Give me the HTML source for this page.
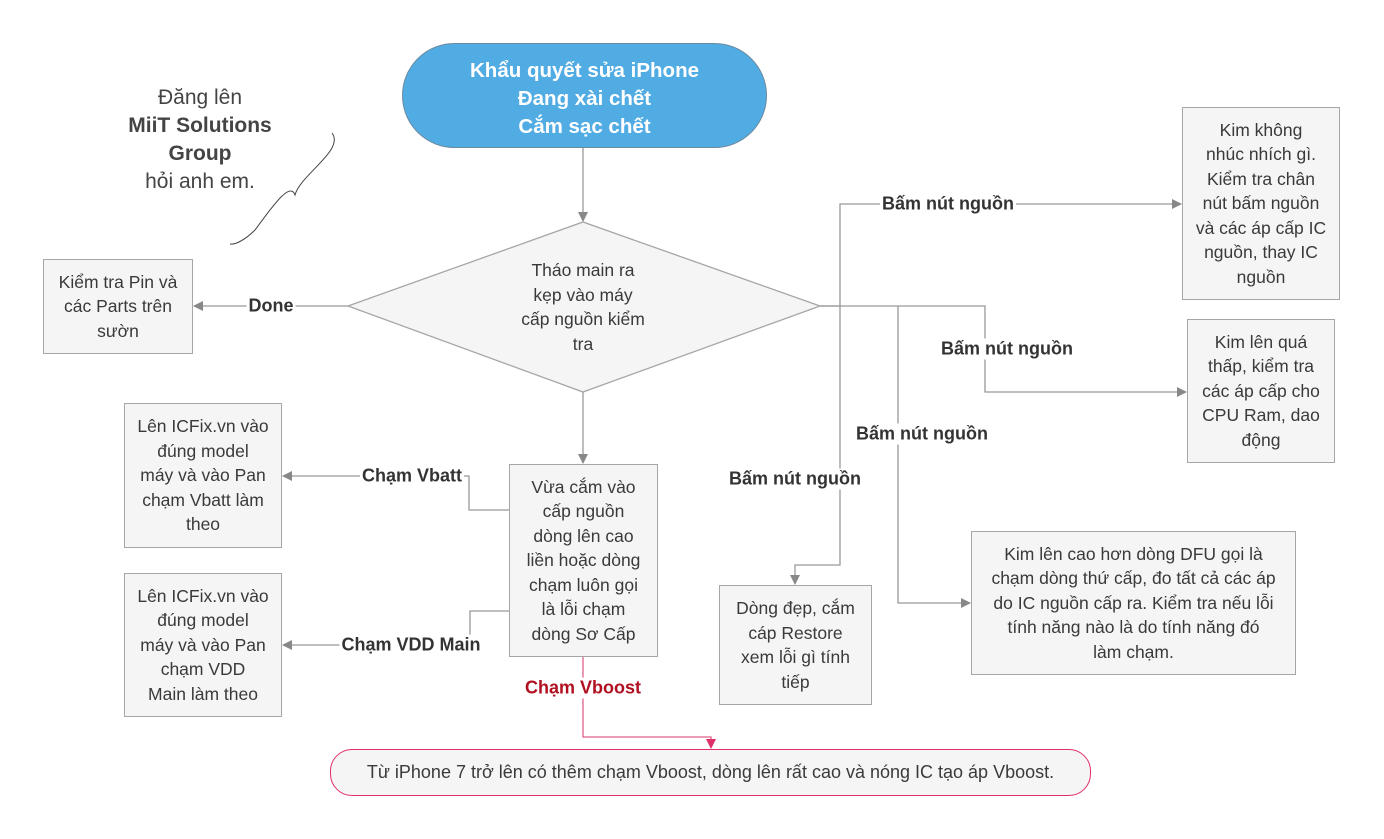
<!DOCTYPE html>
<html><head><meta charset="utf-8"><style>
body{margin:0;background:#fff;width:1384px;height:839px;position:relative;overflow:hidden;font-family:"Liberation Sans","DejaVu Sans",sans-serif;color:#333}
.b{position:absolute;background:#f5f5f5;border:1px solid #a6a6a6;box-sizing:border-box;display:flex;align-items:center;justify-content:center;text-align:center;font-size:17.5px;line-height:24.5px;color:#3a3a3a;white-space:nowrap}
.l{position:absolute;font-weight:bold;font-size:18px;color:#333;background:#fff;white-space:nowrap;transform:translate(-50%,-50%);padding:0 2px}
</style></head><body>
<svg width="1384" height="839" style="position:absolute;left:0;top:0">
<defs>
<marker id="a" markerWidth="10" markerHeight="10" refX="9" refY="5" orient="auto" markerUnits="userSpaceOnUse"><path d="M0,0 L10,5 L0,10z" fill="#888"/></marker>
<marker id="p" markerWidth="10" markerHeight="10" refX="9" refY="5" orient="auto" markerUnits="userSpaceOnUse"><path d="M0,0 L10,5 L0,10z" fill="#e0306a"/></marker>
</defs>
<g fill="none" stroke="#999" stroke-width="1.3">
<path d="M583,148 V221" marker-end="url(#a)"/>
<polygon points="348,306 583,222 820,306 583,392" fill="#f5f5f5" stroke="#a6a6a6"/>
<path d="M348,306 H194" marker-end="url(#a)"/>
<path d="M583,392 V463" marker-end="url(#a)"/>
<path d="M509,510 H469 V476 H283" marker-end="url(#a)"/>
<path d="M509,611 H470 V645 H283" marker-end="url(#a)"/>
<path d="M820,306 H840 V204 H1181" marker-end="url(#a)"/>
<path d="M820,306 H985 V392 H1186" marker-end="url(#a)"/>
<path d="M898,306 V603 H970" marker-end="url(#a)"/>
<path d="M840,306 V565 H795 V584" marker-end="url(#a)"/>
<path d="M583,657 V737 H711 V748" stroke="#e06088" marker-end="url(#p)"/>
<path d="M332,133 C345,150 300,175 295,195 C290,180 270,210 255,230 C245,240 235,245 230,244" stroke="#444" stroke-width="1"/>
</g>
</svg>
<div style="position:absolute;left:402px;top:43px;width:365px;height:105px;border-radius:53px;background:#52ace4;border:1px solid #6a8aa0;box-sizing:border-box;color:#fff;font-weight:bold;font-size:20.5px;line-height:28px;padding-top:6px;display:flex;align-items:center;justify-content:center;text-align:center">Khẩu quyết sửa iPhone<br>Đang xài chết<br>Cắm sạc chết</div>
<div style="position:absolute;left:100px;top:84px;width:200px;text-align:center;font-size:21px;line-height:28px;color:#444">Đăng lên<br><b>MiiT Solutions<br>Group</b><br>hỏi anh em.</div>
<div style="position:absolute;left:483px;top:258px;width:200px;text-align:center;font-size:17.5px;line-height:24.5px;color:#3a3a3a">Tháo main ra<br>kẹp vào máy<br>cấp nguồn kiểm<br>tra</div>
<div class="b" style="left:43px;top:259px;width:150px;height:95px">Kiểm tra Pin và<br>các Parts trên<br>sườn</div>
<div class="b" style="left:124px;top:403px;width:158px;height:145px">Lên ICFix.vn vào<br>đúng model<br>máy và vào Pan<br>chạm Vbatt làm<br>theo</div>
<div class="b" style="left:124px;top:573px;width:158px;height:144px">Lên ICFix.vn vào<br>đúng model<br>máy và vào Pan<br>chạm VDD<br>Main làm theo</div>
<div class="b" style="left:509px;top:464px;width:149px;height:193px">Vừa cắm vào<br>cấp nguồn<br>dòng lên cao<br>liền hoặc dòng<br>chạm luôn gọi<br>là lỗi chạm<br>dòng Sơ Cấp</div>
<div class="b" style="left:1182px;top:107px;width:158px;height:193px">Kim không<br>nhúc nhích gì.<br>Kiểm tra chân<br>nút bấm nguồn<br>và các áp cấp IC<br>nguồn, thay IC<br>nguồn</div>
<div class="b" style="left:1187px;top:319px;width:148px;height:144px">Kim lên quá<br>thấp, kiểm tra<br>các áp cấp cho<br>CPU Ram, dao<br>động</div>
<div class="b" style="left:971px;top:531px;width:325px;height:144px">Kim lên cao hơn dòng DFU gọi là<br>chạm dòng thứ cấp, đo tất cả các áp<br>do IC nguồn cấp ra. Kiểm tra nếu lỗi<br>tính năng nào là do tính năng đó<br>làm chạm.</div>
<div class="b" style="left:719px;top:585px;width:153px;height:120px">Dòng đẹp, cắm<br>cáp Restore<br>xem lỗi gì tính<br>tiếp</div>
<div class="b" style="left:330px;top:749px;width:761px;height:47px;border-radius:22px;border-color:#e0306a;font-size:18px">Từ iPhone 7 trở lên có thêm chạm Vboost, dòng lên rất cao và nóng IC tạo áp Vboost.</div>
<div class="l" style="left:271px;top:306px">Done</div>
<div class="l" style="left:412px;top:476px">Chạm Vbatt</div>
<div class="l" style="left:411px;top:645px">Chạm VDD Main</div>
<div class="l" style="left:583px;top:688px;color:#b01020">Chạm Vboost</div>
<div class="l" style="left:948px;top:204px">Bấm nút nguồn</div>
<div class="l" style="left:1007px;top:349px">Bấm nút nguồn</div>
<div class="l" style="left:922px;top:434px">Bấm nút nguồn</div>
<div class="l" style="left:795px;top:479px">Bấm nút nguồn</div>
</body></html>
